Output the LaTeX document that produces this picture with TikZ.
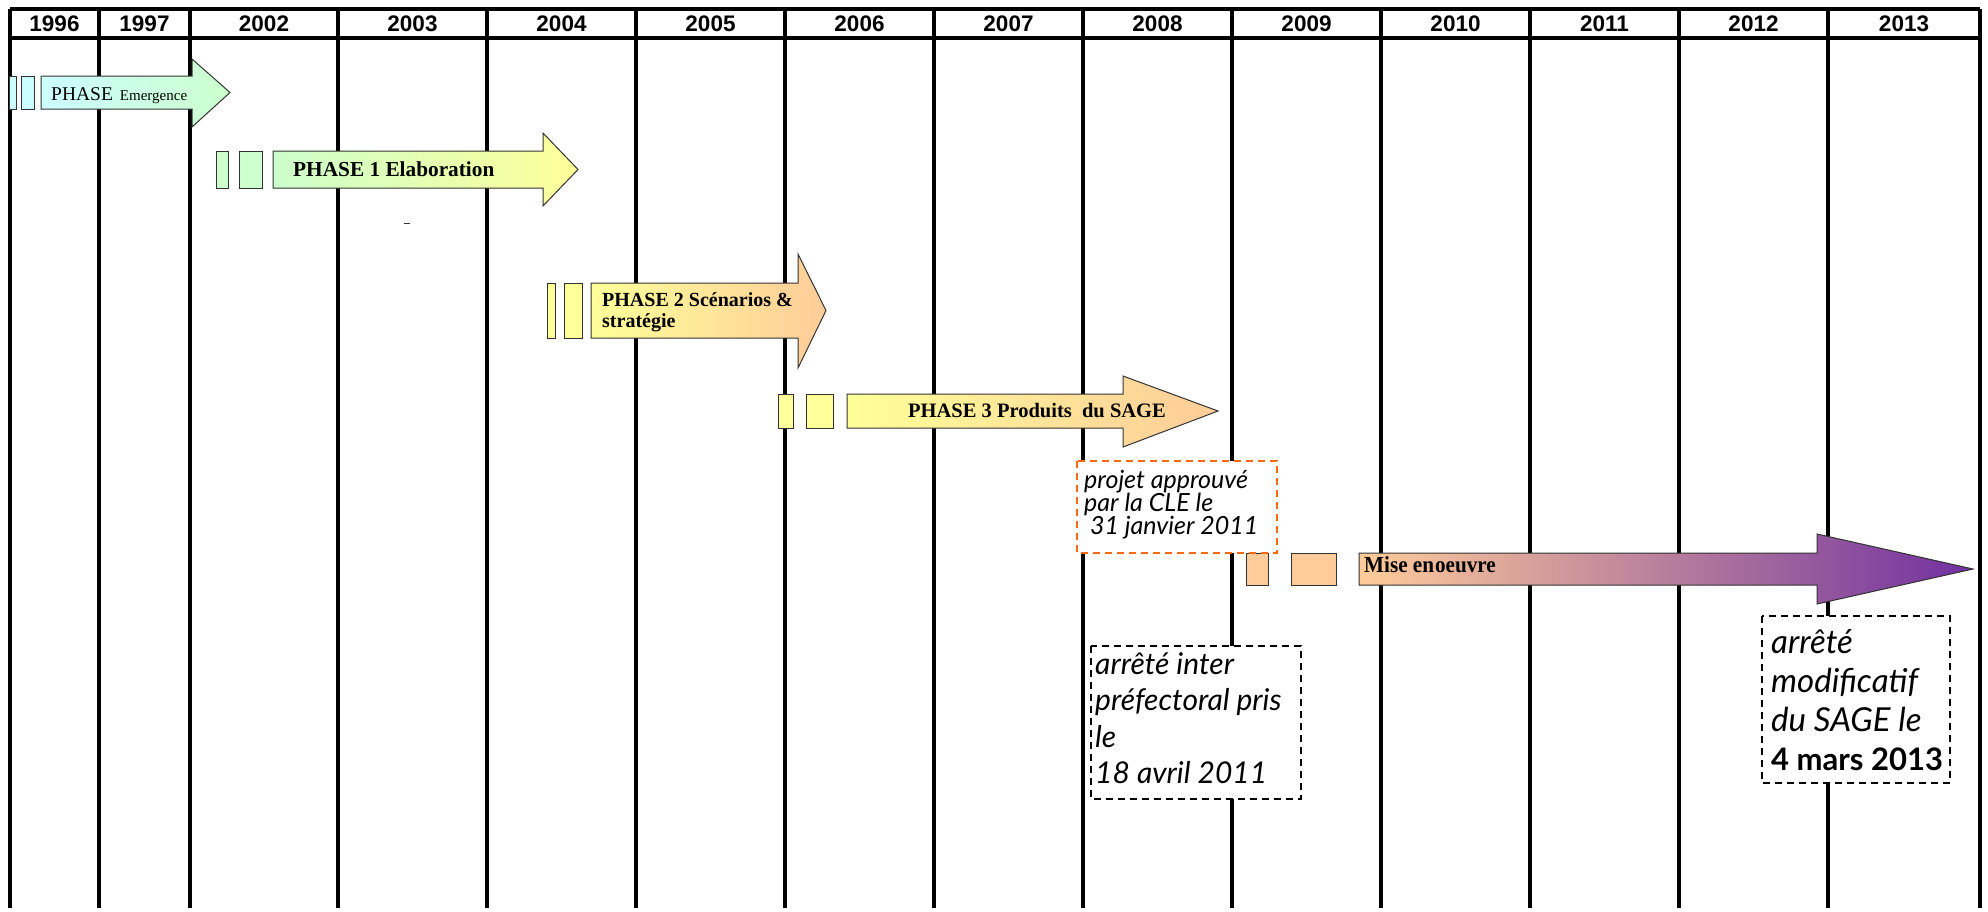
\documentclass[tikz,border=0pt]{standalone}
\usepackage{fontspec}
\setmainfont{Liberation Serif}
\newfontfamily\yearfont{Liberation Sans}
\newfontfamily\notefont{Lato}
\definecolor{cyanA}{HTML}{CCFFFF}
\definecolor{greenA}{HTML}{CCFFCC}
\definecolor{yellowA}{HTML}{FFFF99}
\definecolor{peachA}{HTML}{FFCC99}
\definecolor{purpleA}{HTML}{7030A0}
\definecolor{edgeA}{HTML}{333333}
\definecolor{orangeA}{HTML}{FF6A10}
\tikzset{
  gridline/.style={line width=3.2pt,black},
  shapeedge/.style={draw=edgeA,line width=1pt},
  notebox/.style={draw=black,line width=2pt,dash pattern=on 7pt off 5pt,fill=white},
  orangebox/.style={draw=orangeA,line width=2pt,dash pattern=on 7pt off 5pt,fill=white},
  phasetext/.style={inner sep=0pt,anchor=base west,font=\bfseries\fontsize{20.5}{21}\selectfont},
  notetext/.style={inner sep=0pt,anchor=north west,align=left,font=\notefont\itshape}
}
\newcommand\phasearrow[9]{%
  \shade[left color=#8,right color=#9,shapeedge]
  (#1,#4) -- (#2,#4) -- (#2,#6) -- (#3,{(#4+#5)/2}) -- (#2,#7) -- (#2,#5) -- (#1,#5) -- cycle;}
\begin{document}
\begin{tikzpicture}[x=1pt,y=-1pt]
\useasboundingbox (0,0) rectangle (1988,911);
\fill[white] (0,0) rectangle (1988,911);
% grid
\foreach \xx in {10,99,190,338,487,636,785,934,1083,1232,1381,1530,1679,1828,1980}
  \draw[gridline] (\xx,9) -- (\xx,908);
\draw[gridline] (10,9) -- (1980,9);
\draw[gridline] (10,38) -- (1980,38);
% years
\foreach \cx/\yr in {54.5/1996,144.5/1997,264/2002,412.5/2003,561.5/2004,710.5/2005,859.5/2006,1008.5/2007,1157.5/2008,1306.5/2009,1455.5/2010,1604.5/2011,1753.5/2012,1904/2013}
  \node[font=\yearfont\bfseries\fontsize{22.5}{24}\selectfont,inner sep=0pt] (y\yr) at (\cx,24) {\yr};
% Phase Emergence
\draw[shapeedge,fill=cyanA] (9,76) rectangle (16,109);
\draw[shapeedge,fill=cyanA] (21,76) rectangle (34,109);
\phasearrow{41}{192}{230}{76}{109}{59}{127}{cyanA}{greenA}
\node[inner sep=0pt,anchor=base west,font=\fontsize{19.5}{21}\selectfont] (pe) at (51,100) {PHASE\hspace{7pt}{\fontsize{15}{16}\selectfont Emergence}};
% Phase 1
\draw[shapeedge,fill=greenA] (216,151) rectangle (228,188);
\draw[shapeedge,fill=greenA] (239,151) rectangle (262,188);
\phasearrow{273}{543}{578}{151}{188}{133}{206}{greenA}{yellowA}
\node[phasetext,font=\bfseries\fontsize{21.3}{22}\selectfont] (p1) at (293,176) {PHASE 1 Elaboration};
\draw[line width=1pt,edgeA] (404,223) -- (410,223);
% Phase 2
\draw[shapeedge,fill=yellowA] (547,283) rectangle (555,338);
\draw[shapeedge,fill=yellowA] (564,283) rectangle (582,338);
\phasearrow{591}{798}{826}{283}{338}{254}{368}{yellowA}{peachA}
\node[phasetext,align=left,anchor=north west,font=\bfseries\fontsize{20}{21.5}\selectfont] (p2) at (602,292) {PHASE 2 Scénarios \&\\stratégie};
% Phase 3
\draw[shapeedge,fill=yellowA] (778,394) rectangle (793,428);
\draw[shapeedge,fill=yellowA] (806,394) rectangle (833,428);
\phasearrow{847}{1123}{1218}{394}{428}{376}{447}{yellowA}{peachA}
\node[phasetext] (p3) at (908,417) {PHASE 3 Produits\ \ du SAGE};
% Mise en oeuvre
\draw[shapeedge,fill=peachA] (1246,553) rectangle (1268,585);
\draw[shapeedge,fill=peachA] (1291,553) rectangle (1336,585);
\phasearrow{1359}{1817}{1973}{553}{585}{534}{604}{peachA}{purpleA}
\node[inner sep=0pt,anchor=base west,xscale=0.92,font=\bfseries\fontsize{23}{24}\selectfont] (mo) at (1364,572) {Mise en\hspace{1pt}oeuvre};
% orange box
\draw[orangebox] (1077,461) rectangle (1277,553);
\node[notetext,font=\notefont\itshape\fontsize{25}{23}\selectfont] (clet) at (1084,470) {projet approuvé\\par la CLE le\\\ 31 janvier 2011};
% box 1
\draw[notebox] (1091,646) rectangle (1301,799);
\node[notetext,font=\notefont\itshape\fontsize{30}{36.5}\selectfont] (ap) at (1095,652) {arrêté inter\\préfectoral pris\\le\\18 avril 2011};
% box 2
\draw[notebox] (1762,616) rectangle (1950,783);
\node[notetext,font=\notefont\itshape\fontsize{33}{39}\selectfont] (am) at (1771,629) {arrêté\\modificatif\\du SAGE le\\{\upshape\bfseries\fontsize{31}{39}\selectfont 4 mars 2013}};
\end{tikzpicture}
\end{document}
